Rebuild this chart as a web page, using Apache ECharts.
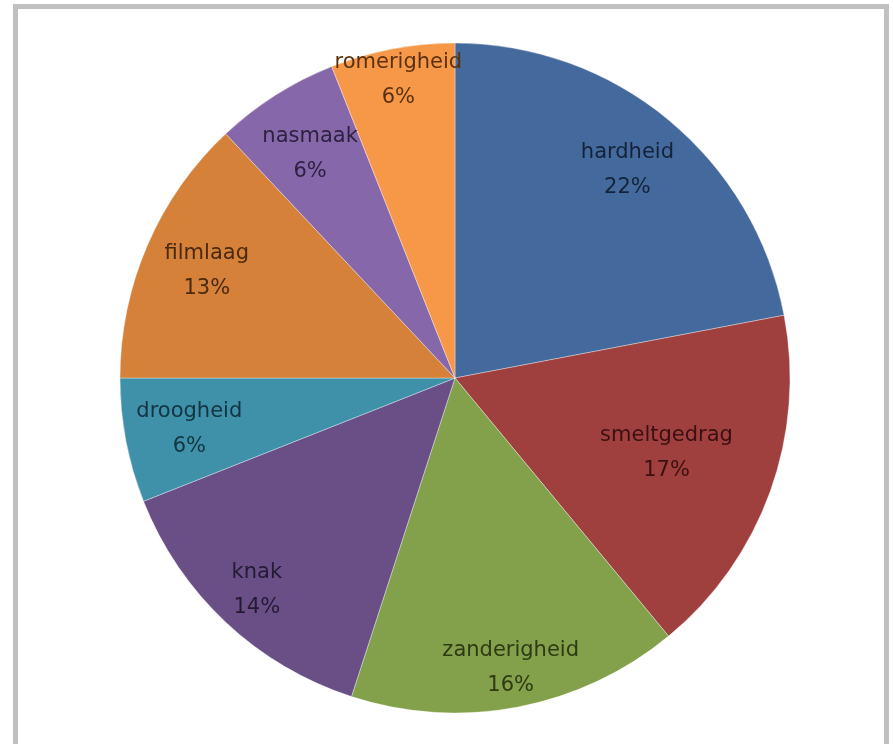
<!DOCTYPE html>
<html>
<head>
<meta charset="utf-8">
<script src="https://cdn.jsdelivr.net/npm/echarts@6/dist/echarts.min.js"></script>
<style>
html,body{margin:0;padding:0;background:#fff;}
#chart{width:893px;height:744px;}
</style>
</head>
<body>
<div id="chart"></div>
<script>
const categories = ['hardheid','smeltgedrag','zanderigheid','knak','droogheid','filmlaag','nasmaak','romerigheid'];
const values = [22, 17, 16, 14, 6, 13, 6, 6];
const sliceColors = ['#44699C','#A0403E','#83A04A','#6A4F87','#3E91A9','#D5813A','#8667A9','#F79748'];
const labelColors = ['#14233A','#3A1010','#2E3A14','#241A33','#133440','#4A2A0E','#2E2240','#5A3210'];
const labelOffsets = [[0,0],[-43,-17],[5,24],[-13,15],[0,0],[0,0],[0,4],[-6,-32]];

const chart = echarts.init(document.getElementById('chart'));
const cx = 455, cy = 378, R = 335;
chart.setOption({
  animation: false,
  graphic: [{
    type: 'rect',
    shape: {x: 15.5, y: 6.5, width: 871, height: 760},
    style: {fill: 'none', stroke: '#C0C0C0', lineWidth: 5},
    silent: true
  }],
  series: [{
    type: 'pie',
    center: [cx, cy],
    radius: [0, R],
    startAngle: 90,
    clockwise: true,
    label: {show: false},
    labelLine: {show: false},
    itemStyle: {borderColor: 'rgba(255,255,255,0.35)', borderWidth: 1},
    data: categories.map((c, i) => ({name: c, value: values[i], itemStyle: {color: sliceColors[i]}}))
  }, {
    type: 'pie',
    center: [cx, cy],
    radius: [200, R],
    startAngle: 90,
    clockwise: true,
    silent: true,
    itemStyle: {color: 'rgba(0,0,0,0)'},
    labelLine: {show: false},
    label: {
      show: true,
      position: 'inside',
      formatter: p => p.name + '\n' + p.value + '%',
      fontFamily: 'DejaVu Sans',
      fontSize: 21,
      lineHeight: 35,
      align: 'center'
    },
    data: categories.map((c, i) => ({
      name: c, value: values[i],
      label: {color: labelColors[i], offset: labelOffsets[i]}
    }))
  }]
});
</script>
</body>
</html>
